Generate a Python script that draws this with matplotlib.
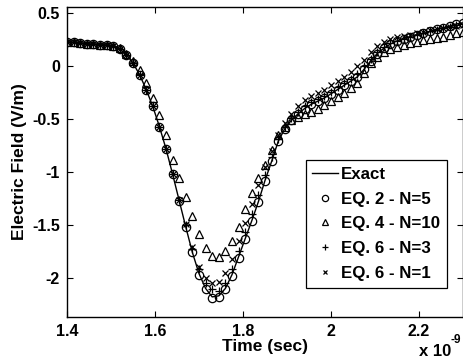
import matplotlib
matplotlib.use("Agg")
import matplotlib.pyplot as plt

# time grid (x 1e-9 s)
time_ns = [1.400, 1.415, 1.430, 1.445, 1.460, 1.475, 1.490, 1.505, 1.520, 1.535,
           1.550, 1.565, 1.580, 1.595, 1.610, 1.625, 1.640, 1.655, 1.670, 1.685,
           1.700, 1.715, 1.730, 1.745, 1.760, 1.775, 1.790, 1.805, 1.820, 1.835,
           1.850, 1.865, 1.880, 1.895, 1.910, 1.925, 1.940, 1.955, 1.970, 1.985,
           2.000, 2.015, 2.030, 2.045, 2.060, 2.075, 2.090, 2.105, 2.120, 2.135,
           2.150, 2.165, 2.180, 2.195, 2.210, 2.225, 2.240, 2.255, 2.270, 2.285,
           2.300]

exact = [0.23, 0.225, 0.22, 0.215, 0.21, 0.205, 0.20, 0.19, 0.16, 0.11,
         0.03, -0.08, -0.22, -0.38, -0.57, -0.78, -1.02, -1.27, -1.52, -1.76,
         -1.96, -2.10, -2.18, -2.17, -2.10, -1.97, -1.80, -1.63, -1.46, -1.28,
         -1.08, -0.90, -0.71, -0.59, -0.51, -0.45, -0.40, -0.36, -0.33, -0.30,
         -0.26, -0.22, -0.18, -0.14, -0.10, -0.03, 0.05, 0.12, 0.17, 0.21,
         0.24, 0.26, 0.28, 0.30, 0.31, 0.33, 0.35, 0.36, 0.38, 0.40,
         0.41]

eq2_n5 = [0.23, 0.225, 0.22, 0.215, 0.21, 0.205, 0.20, 0.19, 0.16, 0.11,
          0.03, -0.08, -0.22, -0.38, -0.57, -0.78, -1.02, -1.27, -1.52, -1.76,
          -1.97, -2.11, -2.19, -2.18, -2.11, -1.98, -1.81, -1.63, -1.46, -1.28,
          -1.08, -0.90, -0.71, -0.59, -0.51, -0.45, -0.40, -0.36, -0.33, -0.30,
          -0.26, -0.22, -0.18, -0.14, -0.10, -0.03, 0.05, 0.12, 0.17, 0.21,
          0.24, 0.26, 0.28, 0.30, 0.31, 0.33, 0.35, 0.36, 0.38, 0.40,
          0.41]

eq4_n10 = [0.23, 0.225, 0.22, 0.215, 0.21, 0.205, 0.20, 0.19, 0.17, 0.12,
           0.05, -0.04, -0.16, -0.30, -0.46, -0.65, -0.89, -1.06, -1.24, -1.42,
           -1.59, -1.72, -1.79, -1.80, -1.75, -1.65, -1.52, -1.35, -1.20, -1.06,
           -0.93, -0.79, -0.65, -0.57, -0.51, -0.48, -0.45, -0.43, -0.40, -0.37,
           -0.33, -0.29, -0.25, -0.21, -0.16, -0.06, 0.03, 0.09, 0.13, 0.16,
           0.18, 0.20, 0.22, 0.23, 0.25, 0.26, 0.27, 0.28, 0.30, 0.31,
           0.32]

eq6_n3 = [0.23, 0.225, 0.22, 0.215, 0.21, 0.205, 0.20, 0.19, 0.16, 0.11,
          0.03, -0.08, -0.22, -0.38, -0.57, -0.78, -1.02, -1.26, -1.50, -1.73,
          -1.92, -2.05, -2.11, -2.12, -2.05, -1.92, -1.75, -1.57, -1.40, -1.22,
          -1.03, -0.86, -0.69, -0.57, -0.49, -0.43, -0.38, -0.34, -0.31, -0.28,
          -0.24, -0.20, -0.16, -0.12, -0.07, 0.00, 0.07, 0.13, 0.18, 0.22,
          0.24, 0.26, 0.28, 0.30, 0.31, 0.33, 0.34, 0.36, 0.37, 0.39,
          0.40]

eq6_n1 = [0.23, 0.225, 0.22, 0.215, 0.21, 0.205, 0.20, 0.19, 0.16, 0.11,
          0.03, -0.08, -0.22, -0.38, -0.57, -0.78, -1.02, -1.26, -1.49, -1.71,
          -1.90, -2.00, -2.05, -2.04, -1.95, -1.82, -1.65, -1.48, -1.30, -1.12,
          -0.95, -0.80, -0.65, -0.54, -0.45, -0.38, -0.32, -0.28, -0.25, -0.22,
          -0.18, -0.14, -0.10, -0.05, 0.00, 0.06, 0.13, 0.19, 0.23, 0.26,
          0.28, 0.29, 0.30, 0.31, 0.32, 0.34, 0.35, 0.36, 0.37, 0.38,
          0.39]

x_ticks = [1.4, 1.6, 1.8, 2.0, 2.2]
x_tick_labels = ["1.4", "1.6", "1.8", "2", "2.2"]
y_ticks = [-2, -1.5, -1, -0.5, 0, 0.5]
y_tick_labels = ["-2", "-1.5", "-1", "-0.5", "0", "0.5"]

plt.rcParams['font.family'] = ['Liberation Sans', 'DejaVu Sans']
plt.rcParams['font.weight'] = 'bold'

fig = plt.figure(figsize=(4.63, 3.62), dpi=100)
ax = fig.add_axes([67 / 463, 45 / 362, 396 / 463, 310 / 362])

ax.plot(time_ns, exact, '-', color='black', linewidth=1.0, label='Exact')
ax.plot(time_ns, eq2_n5, 'o', mfc='none', mec='black', ms=6, mew=0.9,
        label='EQ. 2 - N=5')
ax.plot(time_ns, eq4_n10, '^', mfc='none', mec='black', ms=6, mew=0.9,
        label='EQ. 4 - N=10')
ax.plot(time_ns, eq6_n3, '+', color='black', ms=6, mew=0.9,
        label='EQ. 6 - N=3')
ax.plot(time_ns, eq6_n1, 'x', color='black', ms=4, mew=0.9,
        label='EQ. 6 - N=1')

ax.set_xlim(1.4, 2.3)
ax.set_ylim(-2.37, 0.56)
ax.set_xticks(x_ticks)
ax.set_xticklabels(x_tick_labels)
ax.set_yticks(y_ticks)
ax.set_yticklabels(y_tick_labels)
ax.tick_params(direction='in', length=4, width=0.8, top=True, right=True,
               labelsize=11.5, pad=5)
for s in ax.spines.values():
    s.set_linewidth(1.0)

ax.set_xlabel('Time (sec)', fontsize=12.5, fontweight='bold', labelpad=0)
ax.set_ylabel('Electric Field (V/m)', fontsize=12.5, fontweight='bold', labelpad=4)

leg = ax.legend(loc='lower right', bbox_to_anchor=(0.96, 0.094),
                borderaxespad=0, fancybox=False, edgecolor='black',
                framealpha=1, fontsize=12.2, handlelength=1.5,
                handletextpad=0.2, markerscale=0.75,
                borderpad=0.4, labelspacing=0.58)
leg.get_frame().set_linewidth(0.9)

# MATLAB-style exponent label
fig.text(0.905, 0.008, 'x 10', fontsize=12, fontweight='bold', ha='left', va='bottom')
fig.text(0.972, 0.045, '-9', fontsize=8.5, fontweight='bold', ha='left', va='bottom')

fig.savefig('out.png', dpi=100)
